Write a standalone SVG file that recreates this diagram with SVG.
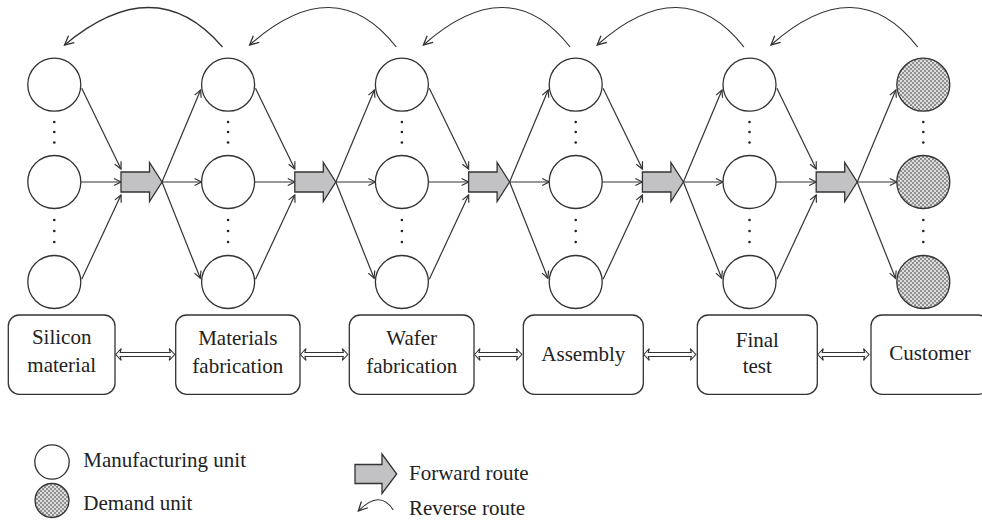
<svg xmlns="http://www.w3.org/2000/svg" width="982" height="521" viewBox="0 0 982 521">
<style>
  .ln { fill: none; stroke: #333; stroke-width: 1.2; }
  .cir { fill: #fff; stroke: #333; stroke-width: 1.3; }
  .dem { fill: url(#hatch); stroke: #333; stroke-width: 1.3; }
  .box { fill: #fff; stroke: #333; stroke-width: 1.3; }
  .blk { fill: #c2c2c4; stroke: #333; stroke-width: 1.3; }
  .dbl { fill: #fff; stroke: #333; stroke-width: 1.1; }
  .dot { fill: #222; }
  .c { text-anchor: middle; }
</style>
<defs>
  <pattern id="hatch" patternUnits="userSpaceOnUse" width="4" height="4">
    <rect width="4" height="4" fill="#909090"/>
    <circle cx="1" cy="1" r="0.95" fill="#fff"/>
    <circle cx="3" cy="3" r="0.95" fill="#fff"/>
  </pattern>
  <marker id="ah" markerUnits="userSpaceOnUse" viewBox="-10 -6 12 12" refX="0" refY="0" markerWidth="12" markerHeight="12" orient="auto">
    <path d="M-7,-3.5 L0,0 L-7,3.5" fill="none" stroke="#333" stroke-width="1.2"/>
  </marker>
  <marker id="ah2" markerUnits="userSpaceOnUse" viewBox="-12 -7 14 14" refX="0" refY="0" markerWidth="14" markerHeight="14" orient="auto">
    <path d="M-9,-4.5 L0,0 L-9,4.5" fill="none" stroke="#333" stroke-width="1.3"/>
  </marker>
  <path id="blkarrow" class="blk" d="M0,172 H28.5 V162.5 L41,182 L28.5,201.5 V192 H0 Z"/>
  <g id="dots">
    <circle class="dot" cx="0" cy="122" r="1.3"/>
    <circle class="dot" cx="0" cy="132" r="1.3"/>
    <circle class="dot" cx="0" cy="142.5" r="1.3"/>
    <circle class="dot" cx="0" cy="220" r="1.3"/>
    <circle class="dot" cx="0" cy="231" r="1.3"/>
    <circle class="dot" cx="0" cy="242" r="1.3"/>
  </g>
</defs>

<!-- connectors -->
<g id="connectors">
  <path class="ln" marker-end="url(#ah)" d="M81.7,88.3 L121,169"/>
  <path class="ln" marker-end="url(#ah)" d="M80.8,182 L121,182"/>
  <path class="ln" marker-end="url(#ah)" d="M81.7,279.3 L121,195"/>
  <path class="ln" marker-end="url(#ah)" d="M255.5,88.3 L294.8,169"/>
  <path class="ln" marker-end="url(#ah)" d="M254.6,182 L294.8,182"/>
  <path class="ln" marker-end="url(#ah)" d="M255.5,279.3 L294.8,195"/>
  <path class="ln" marker-end="url(#ah)" d="M429.3,88.3 L468.6,169"/>
  <path class="ln" marker-end="url(#ah)" d="M428.4,182 L468.6,182"/>
  <path class="ln" marker-end="url(#ah)" d="M429.3,279.3 L468.6,195"/>
  <path class="ln" marker-end="url(#ah)" d="M603.1,88.3 L642.4,169"/>
  <path class="ln" marker-end="url(#ah)" d="M602.2,182 L642.4,182"/>
  <path class="ln" marker-end="url(#ah)" d="M603.1,279.3 L642.4,195"/>
  <path class="ln" marker-end="url(#ah)" d="M776.9,88.3 L816.2,169"/>
  <path class="ln" marker-end="url(#ah)" d="M776,182 L816.2,182"/>
  <path class="ln" marker-end="url(#ah)" d="M776.9,279.3 L816.2,195"/>
  <path class="ln" marker-end="url(#ah)" d="M162,182 L200.6,90"/>
  <path class="ln" marker-end="url(#ah)" d="M162,182 L201.6,182"/>
  <path class="ln" marker-end="url(#ah)" d="M162,182 L200.3,278.3"/>
  <path class="ln" marker-end="url(#ah)" d="M335.8,182 L374.4,90"/>
  <path class="ln" marker-end="url(#ah)" d="M335.8,182 L375.4,182"/>
  <path class="ln" marker-end="url(#ah)" d="M335.8,182 L374.1,278.3"/>
  <path class="ln" marker-end="url(#ah)" d="M509.6,182 L548.2,90"/>
  <path class="ln" marker-end="url(#ah)" d="M509.6,182 L549.2,182"/>
  <path class="ln" marker-end="url(#ah)" d="M509.6,182 L547.9,278.3"/>
  <path class="ln" marker-end="url(#ah)" d="M683.4,182 L722,90"/>
  <path class="ln" marker-end="url(#ah)" d="M683.4,182 L723,182"/>
  <path class="ln" marker-end="url(#ah)" d="M683.4,182 L721.7,278.3"/>
  <path class="ln" marker-end="url(#ah)" d="M857.2,182 L895.8,90"/>
  <path class="ln" marker-end="url(#ah)" d="M857.2,182 L896.8,182"/>
  <path class="ln" marker-end="url(#ah)" d="M857.2,182 L895.5,278.3"/>
  <use href="#blkarrow" x="121"/>
  <use href="#blkarrow" x="294.8"/>
  <use href="#blkarrow" x="468.6"/>
  <use href="#blkarrow" x="642.4"/>
  <use href="#blkarrow" x="816.2"/>
  <path class="ln" marker-end="url(#ah2)" d="M222.5,47 Q155.5,-31 64.5,45"/>
  <path class="ln" marker-end="url(#ah2)" d="M396.3,47 Q335,-31 249.6,45"/>
  <path class="ln" marker-end="url(#ah2)" d="M570.1,47 Q508.8,-31 423.4,45"/>
  <path class="ln" marker-end="url(#ah2)" d="M743.9,47 Q682.6,-31 597.2,45"/>
  <path class="ln" marker-end="url(#ah2)" d="M917.7,47 Q856.4,-31 771,45"/>
  <path class="dbl" d="M115.7,354.5 L121.2,348.5 L120.2,352.5 H170.2 L169.2,348.5 L174.7,354.5 L169.2,360.5 L170.2,356.5 H120.2 L121.2,360.5 Z"/>
  <path class="dbl" d="M300.5,354.5 L306,348.5 L305,352.5 H343.3 L342.3,348.5 L347.8,354.5 L342.3,360.5 L343.3,356.5 H305 L306,360.5 Z"/>
  <path class="dbl" d="M474.5,354.5 L480,348.5 L479,352.5 H517.3 L516.3,348.5 L521.8,354.5 L516.3,360.5 L517.3,356.5 H479 L480,360.5 Z"/>
  <path class="dbl" d="M643.8,354.5 L649.3,348.5 L648.3,352.5 H691.3 L690.3,348.5 L695.8,354.5 L690.3,360.5 L691.3,356.5 H648.3 L649.3,360.5 Z"/>
  <path class="dbl" d="M817.8,354.5 L823.3,348.5 L822.3,352.5 H864.5 L863.5,348.5 L869,354.5 L863.5,360.5 L864.5,356.5 H822.3 L823.3,360.5 Z"/>
</g>

<g id="col1">
  <circle class="cir" cx="54.3" cy="84.7" r="26.5"/>
  <circle class="cir" cx="54.3" cy="182" r="26.5"/>
  <circle class="cir" cx="54.3" cy="282" r="26.5"/>
  <use href="#dots" x="54.3"/>
</g>
<g id="col2">
  <circle class="cir" cx="228.1" cy="84.7" r="26.5"/>
  <circle class="cir" cx="228.1" cy="182" r="26.5"/>
  <circle class="cir" cx="228.1" cy="282" r="26.5"/>
  <use href="#dots" x="228.1"/>
</g>
<g id="col3">
  <circle class="cir" cx="401.9" cy="84.7" r="26.5"/>
  <circle class="cir" cx="401.9" cy="182" r="26.5"/>
  <circle class="cir" cx="401.9" cy="282" r="26.5"/>
  <use href="#dots" x="401.9"/>
</g>
<g id="col4">
  <circle class="cir" cx="575.7" cy="84.7" r="26.5"/>
  <circle class="cir" cx="575.7" cy="182" r="26.5"/>
  <circle class="cir" cx="575.7" cy="282" r="26.5"/>
  <use href="#dots" x="575.7"/>
</g>
<g id="col5">
  <circle class="cir" cx="749.5" cy="84.7" r="26.5"/>
  <circle class="cir" cx="749.5" cy="182" r="26.5"/>
  <circle class="cir" cx="749.5" cy="282" r="26.5"/>
  <use href="#dots" x="749.5"/>
</g>
<g id="col6">
  <circle class="dem" cx="923.3" cy="84.7" r="26.5"/>
  <circle class="dem" cx="923.3" cy="182" r="26.5"/>
  <circle class="dem" cx="923.3" cy="282" r="26.5"/>
  <use href="#dots" x="923.3"/>
</g>

<g font-family="'Liberation Serif', 'Times New Roman', serif" font-size="21" fill="#222">
<g id="stage-silicon">
  <rect class="box" x="8.3" y="315" width="106.7" height="79.3" rx="11"/>
  <text class="c" x="61.7" y="344">Silicon</text>
  <text class="c" x="61.7" y="372">material</text>
</g>
<g id="stage-materials">
  <rect class="box" x="175.7" y="315" width="124.3" height="79.3" rx="11"/>
  <text class="c" x="237.8" y="345">Materials</text>
  <text class="c" x="237.8" y="373">fabrication</text>
</g>
<g id="stage-wafer">
  <rect class="box" x="349.3" y="315" width="124.7" height="79.3" rx="11"/>
  <text class="c" x="411.7" y="345">Wafer</text>
  <text class="c" x="411.7" y="373">fabrication</text>
</g>
<g id="stage-assembly">
  <rect class="box" x="523.3" y="315" width="120" height="79.3" rx="11"/>
  <text class="c" x="583.3" y="361">Assembly</text>
</g>
<g id="stage-final">
  <rect class="box" x="697.3" y="315" width="120" height="79.3" rx="11"/>
  <text class="c" x="757.3" y="347">Final</text>
  <text class="c" x="757.3" y="373">test</text>
</g>
<g id="stage-customer">
  <rect class="box" x="871" y="315" width="118" height="79.3" rx="11"/>
  <text class="c" x="930" y="360">Customer</text>
</g>

<g id="legend-manufacturing">
  <circle class="cir" cx="52" cy="462" r="17.2"/>
  <text x="83.3" y="467">Manufacturing unit</text>
</g>
<g id="legend-demand">
  <circle class="dem" cx="52" cy="500.5" r="17"/>
  <text x="83.3" y="510">Demand unit</text>
</g>
<g id="legend-forward">
  <path class="blk" d="M355,464.5 H382 V454 L396.7,474 L382,493.5 V483.5 H355 Z"/>
  <text x="409" y="480">Forward route</text>
</g>
<g id="legend-reverse">
  <path class="ln" marker-end="url(#ah2)" d="M393.3,510 Q380,489 358.3,511"/>
  <text x="409" y="515">Reverse route</text>
</g>
</g>
</svg>
